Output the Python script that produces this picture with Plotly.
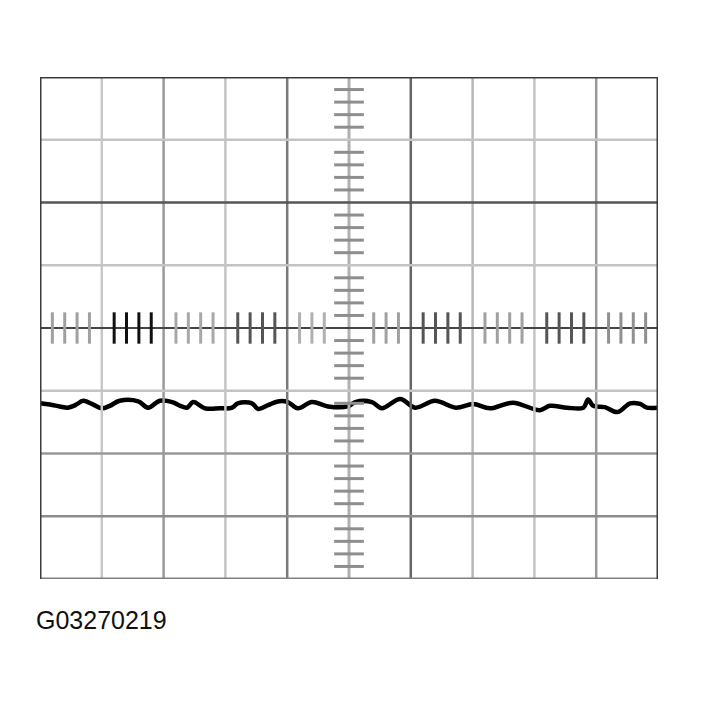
"""
Oscilloscope screen: flat trace about 1.2 div below centre.
"""
import plotly.graph_objects as go

# Trace (x in divisions 0..10, y in divisions -4..4)
TRACE_X = [0.00, 0.16, 0.32, 0.45, 0.57, 0.70, 0.84, 1.00, 1.13, 1.29,
           1.59, 1.75, 1.94, 2.14, 2.27, 2.38, 2.48, 2.67, 2.91, 3.11,
           3.20, 3.43, 3.53, 3.69, 3.85, 4.01, 4.17, 4.40, 4.66, 4.98,
           5.10, 5.37, 5.53, 5.83, 6.07, 6.39, 6.73, 7.01, 7.28, 7.65,
           8.09, 8.25, 8.53, 8.79, 8.87, 8.95, 9.14, 9.34, 9.55, 9.71,
           9.82, 10.00]
TRACE_Y = [-1.20, -1.22, -1.25, -1.27, -1.23, -1.16, -1.21, -1.28, -1.24, -1.16,
           -1.17, -1.27, -1.16, -1.18, -1.24, -1.27, -1.18, -1.28, -1.28, -1.27,
           -1.20, -1.20, -1.29, -1.23, -1.17, -1.18, -1.28, -1.18, -1.25, -1.25,
           -1.18, -1.18, -1.28, -1.13, -1.27, -1.16, -1.27, -1.21, -1.28, -1.19,
           -1.31, -1.24, -1.27, -1.27, -1.14, -1.24, -1.26, -1.34, -1.20, -1.21,
           -1.27, -1.27]

X_DIVS = 10
Y_DIVS = 8
LABEL = 'G03270219'

# scanned grid looks uneven, so each line gets its own grey
V_COLORS = ['#c8c8c8', '#9a9a9a', '#c4c4c4', '#7a7a7a', '#b0b0b0',
            '#666666', '#b8b8b8', '#c4c4c4', '#999999']
# bottom to top
H_COLORS = ['#8c8c8c', '#999999', '#c4c4c4', '#444444', '#c4c4c4',
            '#555555', '#c4c4c4']

shapes = []
for i in range(1, X_DIVS):
    shapes.append(dict(type='line', x0=i, x1=i, y0=-4, y1=4,
                       line=dict(color=V_COLORS[i - 1], width=2.5 if i != 5 else 3)))
for j in range(1, Y_DIVS):
    shapes.append(dict(type='line', x0=0, x1=10, y0=j - 4, y1=j - 4,
                       line=dict(color=H_COLORS[j - 1], width=2.5 if j != 4 else 2)))

# minor ticks on the centre cross
tick_cols = ['#a0a0a0', '#111111', '#a8a8a8', '#555555', '#b0b0b0',
             '#a0a0a0', '#555555', '#a0a0a0', '#555555', '#909090']
for d in range(X_DIVS):
    for k in range(1, 5):
        x = d + k * 0.2
        if abs(x - 5) < 0.25:
            continue
        shapes.append(dict(type='line', x0=x, x1=x, y0=-0.25, y1=0.25,
                           line=dict(color=tick_cols[d], width=3)))
for d in range(Y_DIVS):
    for k in range(1, 5):
        y = d - 4 + k * 0.2
        shapes.append(dict(type='line', x0=4.76, x1=5.24, y0=y, y1=y,
                           line=dict(color='#8e8e8e', width=3)))

# outer frame: bottom edge is lighter than the rest
shapes.append(dict(type='line', x0=0, x1=10, y0=-4, y1=-4,
                   line=dict(color='#808080', width=3)))
for x0, y0, x1, y1 in [(0, -4, 0, 4), (0, 4, 10, 4), (10, 4, 10, -4)]:
    shapes.append(dict(type='line', x0=x0, x1=x1, y0=y0, y1=y1,
                       line=dict(color='#3c3c3c', width=3)))

fig = go.Figure()
fig.add_trace(go.Scatter(
    x=TRACE_X, y=TRACE_Y, mode='lines',
    line=dict(color='#000000', width=4.5, shape='spline', smoothing=1.0),
    hoverinfo='skip', showlegend=False,
))

# page has 8px body margin, so margins are shifted by that
fig.update_layout(
    width=701, height=704,
    paper_bgcolor='white', plot_bgcolor='white',
    margin=dict(l=32, r=51, t=69, b=133),
    xaxis=dict(range=[0, 10], visible=False, showgrid=False, zeroline=False),
    yaxis=dict(range=[-4, 4], visible=False, showgrid=False, zeroline=False),
    shapes=shapes,
    annotations=[dict(
        text=LABEL, xref='paper', yref='paper', x=-0.01, y=-0.082,
        xanchor='left', yanchor='middle', showarrow=False,
        font=dict(family='Liberation Sans, Arial, sans-serif', size=25, color='#111'),
    )],
)

fig.write_html("out.html")
